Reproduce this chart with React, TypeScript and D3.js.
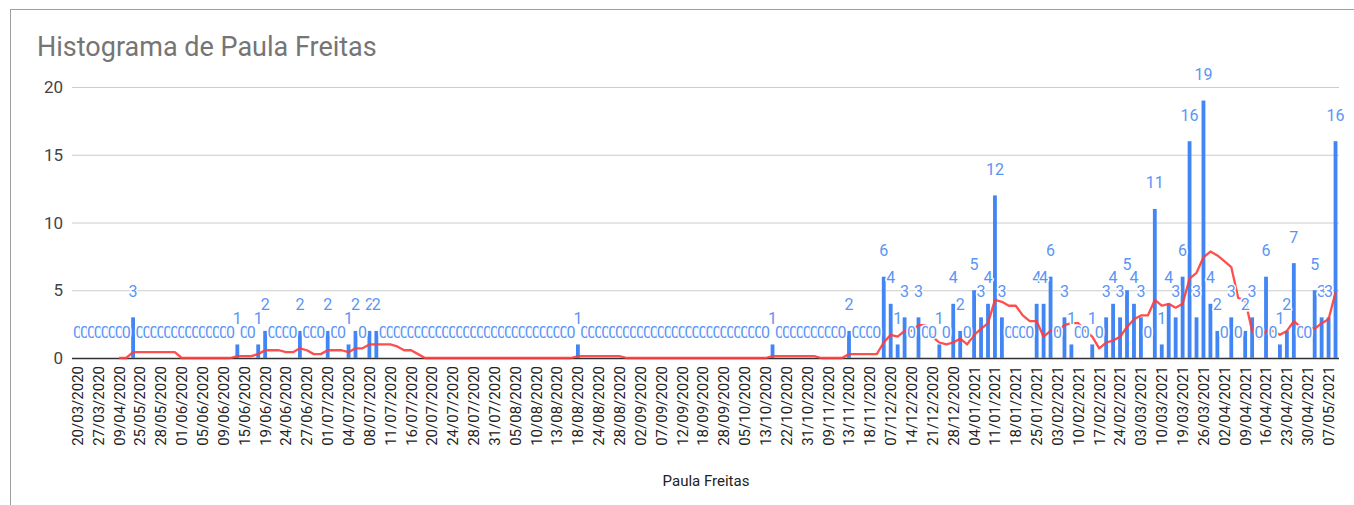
import React, { useEffect, useRef } from "react";
import * as d3 from "d3";

const chartTitle = "Histograma de Paula Freitas";
const axisTitle = "Paula Freitas";

// only every third category gets a tick label on the axis
const tickLabels = [
  "20/03/2020", "27/03/2020", "09/04/2020", "25/05/2020", "28/05/2020",
  "01/06/2020", "05/06/2020", "09/06/2020", "15/06/2020", "19/06/2020",
  "24/06/2020", "27/06/2020", "01/07/2020", "04/07/2020", "08/07/2020",
  "11/07/2020", "16/07/2020", "20/07/2020", "24/07/2020", "28/07/2020",
  "31/07/2020", "05/08/2020", "10/08/2020", "13/08/2020", "18/08/2020",
  "24/08/2020", "28/08/2020", "02/09/2020", "07/09/2020", "12/09/2020",
  "18/09/2020", "28/09/2020", "05/10/2020", "13/10/2020", "22/10/2020",
  "31/10/2020", "09/11/2020", "13/11/2020", "18/11/2020", "07/12/2020",
  "14/12/2020", "21/12/2020", "28/12/2020", "04/01/2021", "11/01/2021",
  "18/01/2021", "25/01/2021", "03/02/2021", "10/02/2021", "17/02/2021",
  "24/02/2021", "03/03/2021", "10/03/2021", "19/03/2021", "26/03/2021",
  "02/04/2021", "09/04/2021", "16/04/2021", "23/04/2021", "30/04/2021",
  "07/05/2021",
];
const labelEvery = 3;

// counts per category, in order
const counts = [
  0, 0, 0, 0, 0, 0, 0, 0, 3, 0,
  0, 0, 0, 0, 0, 0, 0, 0, 0, 0,
  0, 0, 0, 1, 0, 0, 1, 2, 0, 0,
  0, 0, 2, 0, 0, 0, 2, 0, 0, 1,
  2, 0, 2, 2, 0, 0, 0, 0, 0, 0,
  0, 0, 0, 0, 0, 0, 0, 0, 0, 0,
  0, 0, 0, 0, 0, 0, 0, 0, 0, 0,
  0, 0, 1, 0, 0, 0, 0, 0, 0, 0,
  0, 0, 0, 0, 0, 0, 0, 0, 0, 0,
  0, 0, 0, 0, 0, 0, 0, 0, 0, 0,
  1, 0, 0, 0, 0, 0, 0, 0, 0, 0,
  0, 2, 0, 0, 0, 0, 6, 4, 1, 3,
  0, 3, 0, 0, 1, 0, 4, 2, 0, 5,
  3, 4, 12, 3, 0, 0, 0, 0, 4, 4,
  6, 0, 3, 1, 0, 0, 1, 0, 3, 4,
  3, 5, 4, 3, 0, 11, 1, 4, 3, 6,
  16, 3, 19, 4, 2, 0, 3, 0, 2, 3,
  0, 6, 0, 1, 2, 7, 0, 0, 5, 3,
  3, 16,
];

const yTicks = [0, 5, 10, 15, 20];
const trendPeriod = 7; // moving average trendline

const App: React.FC = () => {
  const svgRef = useRef<SVGSVGElement | null>(null);

  useEffect(() => {
    const svg = d3.select(svgRef.current);
    svg.selectAll("*").remove();
    const font = "Roboto, Arial, sans-serif";

    // frame
    svg
      .append("rect")
      .attr("x", 10.5)
      .attr("y", 9.5)
      .attr("width", 1400)
      .attr("height", 600)
      .attr("fill", "white")
      .attr("stroke", "#9e9e9e");

    svg
      .append("text")
      .attr("x", 37)
      .attr("y", 56)
      .text(chartTitle)
      .style("font-family", font)
      .style("font-size", "27px")
      .attr("fill", "#757575");

    const x = d3
      .scaleBand<number>()
      .domain(d3.range(counts.length))
      .range([74, 1339])
      .paddingInner(0.45)
      .paddingOuter(0.225);
    const cx = (i: number) => (x(i) as number) + x.bandwidth() / 2;

    const y = d3.scaleLinear().domain([0, 20]).range([358, 87]);

    // gridlines + y labels
    svg
      .append("g")
      .selectAll("line")
      .data(yTicks)
      .enter()
      .append("line")
      .attr("x1", 72)
      .attr("x2", 1339)
      .attr("y1", (d) => y(d) + 0.5)
      .attr("y2", (d) => y(d) + 0.5)
      .attr("stroke", (d) => (d === 0 ? "#333" : "#cccccc"))
      .attr("stroke-width", (d) => (d === 0 ? 1.5 : 1));

    svg
      .append("g")
      .selectAll("text")
      .data(yTicks)
      .enter()
      .append("text")
      .attr("x", 63)
      .attr("y", (d) => y(d))
      .attr("dy", "0.36em")
      .attr("text-anchor", "end")
      .text((d) => d)
      .style("font-family", font)
      .style("font-size", "17px")
      .attr("fill", "#444");

    // bars
    svg
      .append("g")
      .selectAll("rect")
      .data(counts)
      .enter()
      .append("rect")
      .attr("x", (_, i) => x(i) as number)
      .attr("width", x.bandwidth())
      .attr("y", (d) => y(d))
      .attr("height", (d) => y(0) - y(d))
      .attr("fill", "#4285f4");

    // trendline
    const trend = counts
      .map((_, i) =>
        i < trendPeriod - 1
          ? null
          : { i, v: d3.mean(counts.slice(i - trendPeriod + 1, i + 1)) as number }
      )
      .filter((d) => d !== null) as { i: number; v: number }[];

    const line = d3
      .line<{ i: number; v: number }>()
      .x((d) => cx(d.i))
      .y((d) => y(d.v));

    svg
      .append("path")
      .attr("d", line(trend)!)
      .attr("fill", "none")
      .attr("stroke", "#ff3b3b")
      .attr("stroke-opacity", 0.9)
      .attr("stroke-width", 2.3)
      .attr("stroke-linejoin", "round");

    // data labels, white halo so later ones overlap earlier ones
    svg
      .append("g")
      .selectAll("text")
      .data(counts)
      .enter()
      .append("text")
      .attr("x", (_, i) => cx(i))
      .attr("y", (d) => y(d) - 20.5)
      .attr("text-anchor", "middle")
      .text((d) => d)
      .style("font-family", font)
      .style("font-size", "16px")
      .style("paint-order", "stroke")
      .attr("stroke", "white")
      .attr("stroke-width", 3)
      .attr("stroke-linejoin", "round")
      .attr("fill", "#5a95f5");

    // x tick labels
    svg
      .append("g")
      .selectAll("text")
      .data(tickLabels)
      .enter()
      .append("text")
      .attr(
        "transform",
        (_, k) => `translate(${cx(k * labelEvery)}, 366) rotate(-90)`
      )
      .attr("dy", "0.36em")
      .attr("text-anchor", "end")
      .text((d) => d)
      .style("font-family", font)
      .style("font-size", "15px")
      .attr("fill", "#222");

    svg
      .append("text")
      .attr("x", 706)
      .attr("y", 486)
      .attr("text-anchor", "middle")
      .text(axisTitle)
      .style("font-family", font)
      .style("font-size", "15px")
      .attr("fill", "#222");
  }, []);

  return (
    <div style={{ position: "absolute", left: 0, top: 0 }}>
      <svg ref={svgRef} width={1354} height={505} style={{ display: "block" }} />
    </div>
  );
};

export default App;
